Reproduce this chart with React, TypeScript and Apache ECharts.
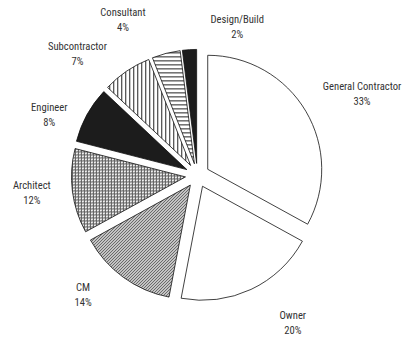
import React, { useEffect, useRef } from "react";
import * as echarts from "echarts";

// ---- data ----
const categories = [
  "General Contractor",
  "Owner",
  "CM",
  "Architect",
  "Engineer",
  "Subcontractor",
  "Consultant",
  "Design/Build",
];
const shares = [33, 20, 14, 12, 8, 7, 4, 2];

// ---- layout ----
const W = 403;
const H = 337;
const CENTER = [197.4, 175.4];
const RADIUS = 114;
const EXPLODE = 12;
const LABEL_GAP = 26;
const FONT_SIZE = 10.6;
const LINE_H = 15;
const FONT = `${FONT_SIZE}px 'Roboto Condensed', 'Liberation Sans', sans-serif`;
const LABEL_NUDGE = [
  [0, 4],
  [25, -4],
  [-20, -16],
  [4, -3],
  [1, 20],
  [-18, 17],
  [-31, 6],
  [51, 18],
];

function tile(size: number, draw: (ctx: CanvasRenderingContext2D) => void) {
  const c = document.createElement("canvas");
  c.width = size;
  c.height = size;
  const ctx = c.getContext("2d")!;
  ctx.fillStyle = "#ffffff";
  ctx.fillRect(0, 0, size, size);
  draw(ctx);
  return { image: c, repeat: "repeat", imageWidth: size, imageHeight: size };
}

function makeFills(): any[] {
  const diag = tile(3, (ctx) => {
    ctx.fillStyle = "#4a4a4a";
    ctx.fillRect(0, 2, 1, 1);
    ctx.fillRect(1, 1, 1, 1);
    ctx.fillRect(2, 0, 1, 1);
    ctx.fillStyle = "#a8a8a8";
    ctx.fillRect(1, 2, 1, 1);
    ctx.fillRect(2, 1, 1, 1);
    ctx.fillRect(0, 0, 1, 1);
  });
  const grid = tile(3, (ctx) => {
    ctx.fillStyle = "#5e5e5e";
    ctx.fillRect(0, 0, 3, 1);
    ctx.fillRect(0, 0, 1, 3);
    ctx.fillStyle = "#b0b0b0";
    ctx.fillRect(2, 2, 1, 1);
  });
  const vert = tile(4, (ctx) => {
    ctx.fillStyle = "#222222";
    ctx.fillRect(0, 0, 1, 4);
  });
  const horiz = tile(4, (ctx) => {
    ctx.fillStyle = "#222222";
    ctx.fillRect(0, 0, 4, 1);
  });
  return ["#ffffff", "#ffffff", diag, grid, "#1c1c1c", vert, horiz, "#1c1c1c"];
}

export default function App() {
  const ref = useRef<HTMLDivElement>(null);
  useEffect(() => {
    if (!ref.current) return;
    const chart = echarts.init(ref.current, null, { renderer: "svg" });
    const fills = makeFills();
    const total = shares.reduce((a, b) => a + b, 0);
    const data = categories.map((name, i) => {
      const style = { color: fills[i], borderColor: "#111", borderWidth: 0.8 };
      return {
        name,
        value: shares[i],
        selected: true,
        itemStyle: style,
        select: { itemStyle: style },
      };
    });

    const measure = document.createElement("canvas").getContext("2d")!;
    measure.font = FONT;
    let before = 0;
    const labels = categories.map((name, i) => {
      const theta = ((before + shares[i] / 2) / total) * Math.PI * 2;
      before += shares[i];
      const text = `${name}\n${shares[i]}%`;
      const w = Math.max(
        measure.measureText(name).width,
        measure.measureText(`${shares[i]}%`).width
      );
      const h = LINE_H * 2;
      const s = Math.sin(theta);
      const c = Math.cos(theta);
      const cx = CENTER[0] + EXPLODE * s;
      const cy = CENTER[1] - EXPLODE * c;
      const x = cx + (RADIUS + LABEL_GAP) * s + (w / 2) * s + LABEL_NUDGE[i][0];
      const y = cy - (RADIUS + LABEL_GAP) * c - (h / 2) * c + LABEL_NUDGE[i][1];
      return {
        type: "text",
        x,
        y,
        style: {
          text,
          font: FONT,
          lineHeight: LINE_H,
          fill: "#333333",
          align: "center",
          verticalAlign: "middle",
        },
      };
    });

    chart.setOption({
      animation: false,
      backgroundColor: "#ffffff",
      graphic: labels,
      series: [
        {
          type: "pie",
          center: CENTER,
          radius: RADIUS,
          startAngle: 90,
          clockwise: true,
          selectedMode: "multiple",
          selectedOffset: EXPLODE,
          avoidLabelOverlap: false,
          emphasis: { disabled: true },
          data,
          label: { show: false },
          labelLine: { show: false },
        },
      ],
    });
    return () => chart.dispose();
  }, []);
  return (
    <div
      ref={ref}
      style={{ position: "fixed", left: 0, top: 0, width: W, height: H, background: "#fff" }}
    />
  );
}
